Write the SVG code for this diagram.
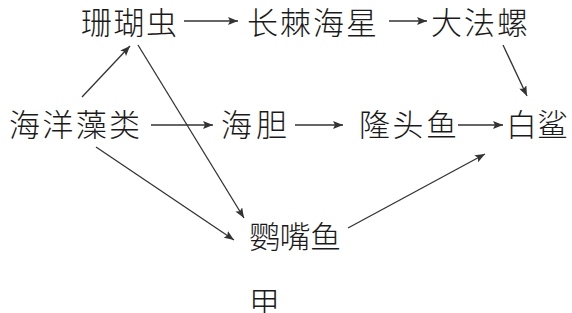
<svg xmlns="http://www.w3.org/2000/svg" width="572" height="313" viewBox="0 0 572 313">
<style>
text{font-family:"Noto Sans CJK SC","Noto Sans CJK TC",sans-serif;font-size:31px;font-weight:300;fill:#1a1a1a;dominant-baseline:central}
.c line{stroke:#333;stroke-width:1.3;marker-end:url(#ah)}
</style>
<defs>
<marker id="ah" viewBox="0 0 10 8" refX="10" refY="4" markerWidth="10" markerHeight="8" markerUnits="userSpaceOnUse" orient="auto">
<path d="M0,0 L10,4 L0,8 L2,4 Z" fill="#333"/>
</marker>
</defs>
<rect width="572" height="313" fill="#fff"/>
<g id="n-shanhu"><text x="81" y="20" textLength="96">珊瑚虫</text></g>
<g id="n-changji"><text x="247" y="20" textLength="130">长棘海星</text></g>
<g id="n-dafaluo"><text x="431" y="20" textLength="97">大法螺</text></g>
<g id="n-haiyang"><text x="9" y="122" textLength="131">海洋藻类</text></g>
<g id="n-haidan"><text x="221" y="122" textLength="66">海胆</text></g>
<g id="n-longtou"><text x="359" y="122" textLength="98">隆头鱼</text></g>
<g id="n-baisha"><text x="506" y="122" textLength="62">白鲨</text></g>
<g id="n-yingzui"><text x="249" y="234" textLength="92">鹦嘴鱼</text></g>
<g id="label-jia"><text x="249" y="300">甲</text></g>
<g class="c" id="connectors">
<line x1="184" y1="21" x2="238" y2="21"/>
<line x1="389" y1="21" x2="427" y2="21"/>
<line x1="151" y1="125" x2="213" y2="125"/>
<line x1="295" y1="125" x2="343" y2="125"/>
<line x1="458" y1="125" x2="503" y2="125"/>
<line x1="82" y1="97" x2="130" y2="46"/>
<line x1="138" y1="45" x2="244" y2="218"/>
<line x1="96" y1="147" x2="234" y2="240"/>
<line x1="348" y1="228" x2="485" y2="154"/>
<line x1="503" y1="45" x2="527" y2="96"/>
</g>
</svg>
